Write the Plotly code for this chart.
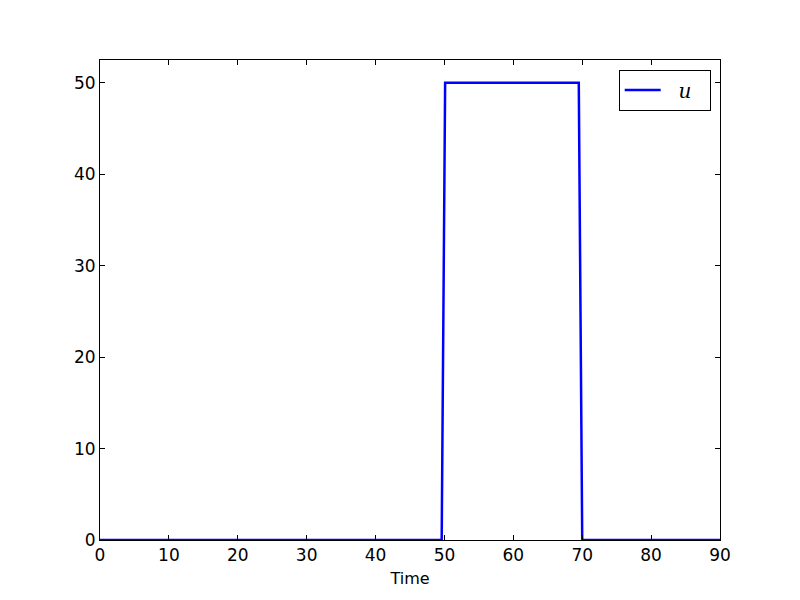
import plotly.graph_objects as go

# Sinal de entrada u ao longo do tempo
tempo = [0, 49.6, 50.1, 69.5, 70.0, 90]
u = [0, 0, 50, 50, 0, 0]

x_ticks = [0, 10, 20, 30, 40, 50, 60, 70, 80, 90]
y_ticks = [0, 10, 20, 30, 40, 50]

fig = go.Figure()
fig.add_trace(go.Scatter(
    x=tempo, y=u, mode='lines', name='  <i>u</i>  ',
    line=dict(color='#0000ff', width=2.5)
))

eixo = dict(
    showline=True, linecolor='black', linewidth=1, mirror='allticks',
    ticks='inside', ticklen=5, tickcolor='black', showgrid=False,
    zeroline=False, tickfont=dict(family='DejaVu Sans', size=17, color='black')
)

# a página tem 8px de margem no body, por isso a figura é um pouco menor
fig.update_layout(
    width=792, height=592,
    margin=dict(l=92, r=80, t=52, b=60),
    plot_bgcolor='white', paper_bgcolor='white',
    xaxis=dict(range=[0, 90], tickvals=x_ticks,
               title=dict(text='Time', standoff=8,
                          font=dict(family='DejaVu Sans', size=16, color='black')),
               **eixo),
    yaxis=dict(range=[0, 52.5], tickvals=y_ticks, **eixo),
    showlegend=True,
    legend=dict(x=0.985, y=0.98, xanchor='right', yanchor='top',
                bordercolor='black', borderwidth=1, bgcolor='white',
                itemwidth=36,
                font=dict(family='DejaVu Serif', size=20, color='black')),
)

fig.write_html("out.html")
